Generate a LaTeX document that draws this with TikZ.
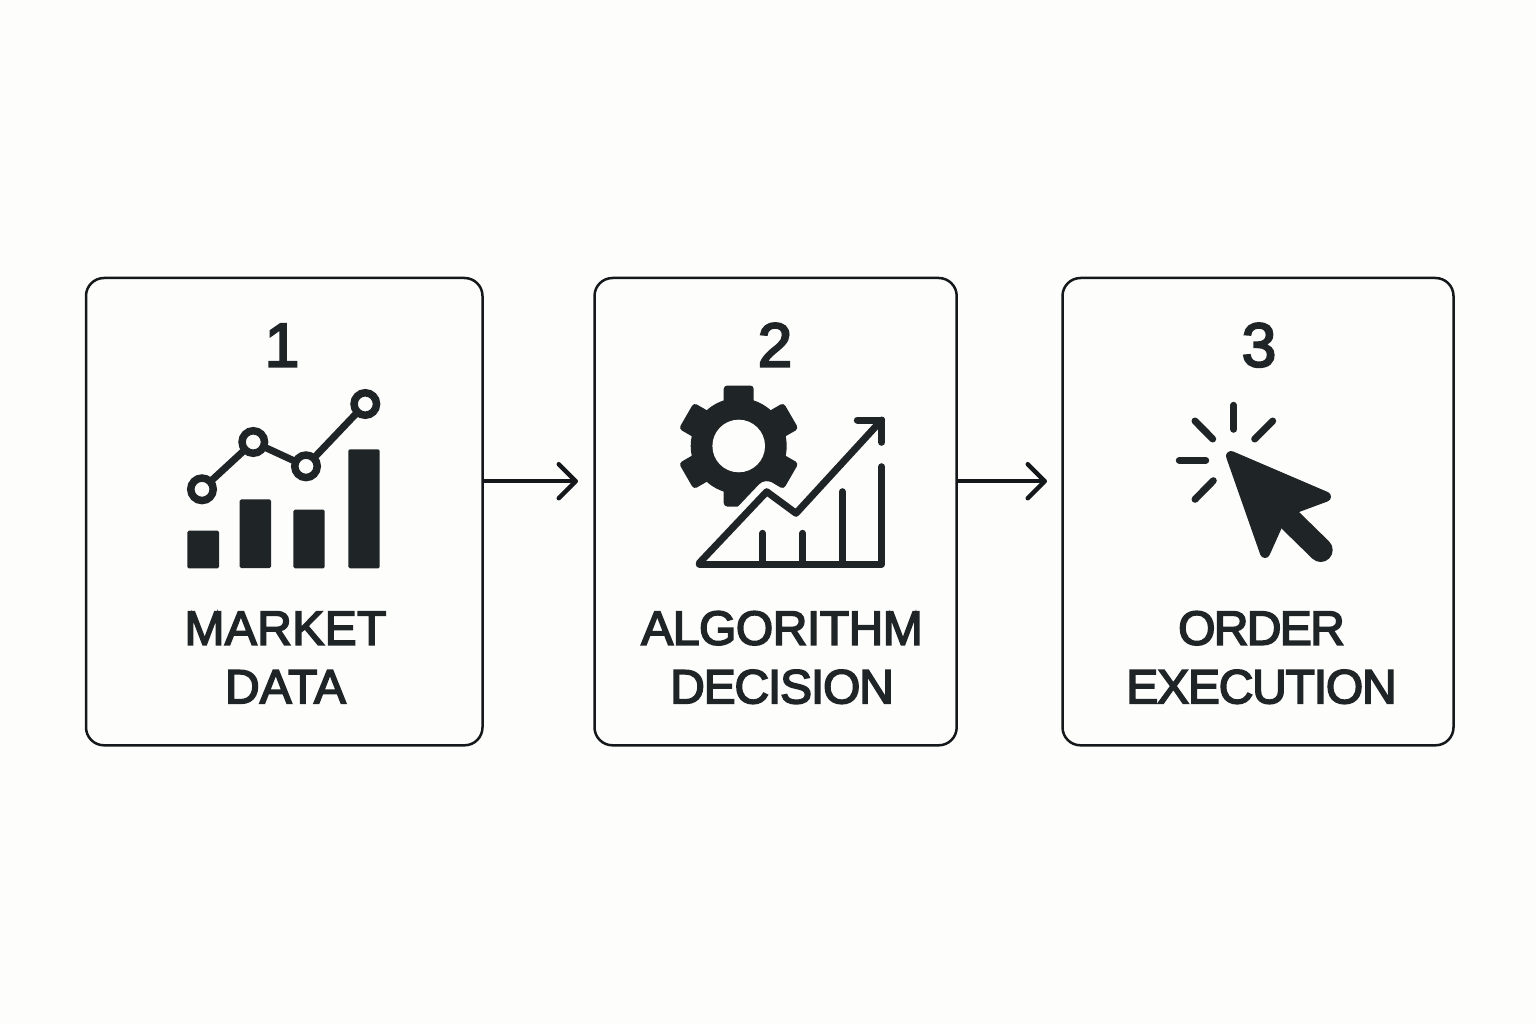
\documentclass[tikz,border=0pt]{standalone}
\usepackage{fontspec}
\usetikzlibrary{arrows.meta}
\setmainfont{Liberation Sans}
\newfontfamily\labelfont[FakeBold=3.4]{Liberation Sans}
\newcommand{\spaced}[2]{{\addfontfeature{LetterSpace=#1}#2}}
\definecolor{inkcol}{HTML}{1F2426}
\definecolor{framecol}{HTML}{14181A}
\definecolor{papercol}{HTML}{FDFDFC}
\tikzset{
	stagebox/.style={draw=framecol,fill=papercol,line width=2.5pt,rounded corners=18pt,inner sep=0,outer sep=0,minimum height=467.3pt},
	stagenum/.style={text=inkcol,inner sep=0,anchor=base,font=\labelfont\fontsize{62}{62}\selectfont},
	stagelabel/.style={text=inkcol,inner sep=0,align=center,font=\labelfont\fontsize{48}{58.6}\selectfont},
	flowarrow/.style={draw=framecol,line width=3.6pt,-{Straight Barb[length=17pt,width=34pt,line width=4.5pt,round]}},
	iconline/.style={draw=inkcol,line width=7pt,line cap=round,line join=round},
	iconbar/.style={fill=inkcol,rounded corners=1.5pt},
}
\begin{document}
\begin{tikzpicture}[x=1pt,y=-1pt]
	\useasboundingbox[fill=papercol] (0,0) rectangle (1536,1024);
	\node[stagebox,minimum width=396.5pt] (box1) at (284.25,511.65) {};
	\node[stagebox,minimum width=362.2pt] (box2) at (775.6,511.65) {};
	\node[stagebox,minimum width=391pt] (box3) at (1258,511.65) {};
	\node[stagenum] (num1) at (282,366.5) {1};
	\node[stagenum] (num2) at (775,366.5) {2};
	\node[stagenum] (num3) at (1259,366.5) {3};
	\node[stagelabel] (label1) at (285.5,657.5) {\spaced{0.8}{MARKET}\\DATA};
	\node[stagelabel] (label2) at (782,657.5) {\spaced{-1}{ALGORITHM}\\\spaced{-2.5}{DECISION}};
	\node[stagelabel] (label3) at (1261.5,657.5) {\spaced{-3.5}{ORDER}\\\spaced{-2.5}{EXECUTION}};
	\coordinate (tail1) at (482.5,481.2);
	\coordinate (head1) at (578,481.2);
	\coordinate (tail2) at (956.7,481.2);
	\coordinate (head2) at (1047,481.2);
	\draw[flowarrow] (tail1) -- (head1);
	\draw[flowarrow] (tail2) -- (head2);
	% market data icon
	\fill[iconbar] (187.3,530.7) rectangle (219,568.3);
	\fill[iconbar] (239.7,499.3) rectangle (271,568);
	\fill[iconbar] (293.3,509.7) rectangle (324.7,568.3);
	\fill[iconbar] (348.3,449.3) rectangle (379.7,568.3);
	\draw[iconline] (202,489.3) -- (253.3,442) -- (306,466.3) -- (365.3,404);
	\foreach \cx/\cy in {202/489.3,253.3/442,306/466.3,365.3/404}
		\draw[draw=inkcol,fill=papercol,line width=7.5pt] (\cx,\cy) circle (11.25);
	% gear and rising chart
	\fill[inkcol] (738.7,446) circle (48);
	\foreach \a in {90,150,210,270,330,30}
		\fill[inkcol,rotate around={\a:(738.7,446)},rounded corners=3.5pt] (738.7+38,446-15) rectangle (738.7+60.5,446+15);
	\fill[papercol] (738.7,446) circle (26.3);
	\draw[draw=papercol,line width=21pt,line join=round] (699.3,562.7) -- (766.7,491.7) -- (796,513.3);
	\draw[iconline] (699.3,563) -- (766.7,491.7) -- (796,513.3) -- (881.7,420);
	\draw[iconline] (857.3,420) -- (881.7,420) -- (881.7,442.3);
	\draw[iconline] (881.7,466.7) -- (881.7,564) -- (699.3,564);
	\draw[iconline] (762.7,533.3) -- (762.7,564);
	\draw[iconline] (802.7,533.3) -- (802.7,564);
	\draw[iconline] (842.3,491.7) -- (842.3,564);
	% cursor icon
	\draw[iconline] (1233.7,405.3) -- (1233.7,429.3);
	\draw[iconline] (1195,421) -- (1212.7,439);
	\draw[iconline] (1272.7,421) -- (1254.7,439);
	\draw[iconline] (1179.3,460.3) -- (1205.7,460.3);
	\draw[iconline] (1213.3,480.7) -- (1195,499.3);
	\filldraw[draw=inkcol,fill=inkcol,line width=10pt,line join=round] (1231,456) -- (1326,496.7) -- (1295.5,508) -- (1278,524) -- (1265,553) -- cycle;
	\draw[draw=inkcol,line width=24pt,line cap=round] (1290.3,520.3) -- (1320.7,550);
\end{tikzpicture}
\end{document}
